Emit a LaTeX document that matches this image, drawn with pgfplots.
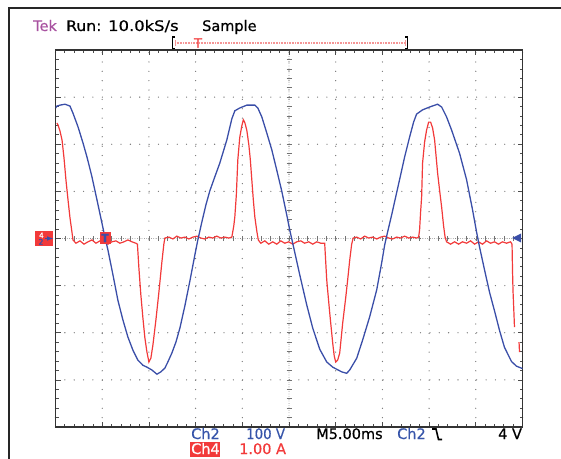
\documentclass[border=0pt]{standalone}
\usepackage{pgfplots}
\pgfplotsset{compat=1.18}
\usepackage{fontspec}
\setmainfont{DejaVu Sans}[FakeBold=0.5]

\definecolor{tekblue}{RGB}{58,78,168}
\definecolor{tekred}{RGB}{242,58,58}
\definecolor{tekpurple}{RGB}{168,82,160}
\definecolor{gridc}{RGB}{115,115,115}
\definecolor{txtblue}{RGB}{55,85,170}
\definecolor{pinkline}{RGB}{245,150,150}

\newcommand\tekfont{\fontsize{14.5}{17}\selectfont}

\begin{document}
\begin{tikzpicture}[x=1pt,y=1pt]
\useasboundingbox (0,0) rectangle (561,458);

% outer frame of the screen capture
\draw[black!85, line width=2pt] (9,-20) -- (9,450) -- (600,450);

% centre lines of the graticule: fine dots and 0.2 div ticks
\draw[gridc, line width=0.8pt, line cap=round, dash pattern=on 0pt off 2.34pt] (55.5,219.5) -- (522.5,219.5);
\draw[gridc, line width=0.8pt, line cap=round, dash pattern=on 0pt off 2.36pt] (289,31) -- (289,408);
\foreach \i in {1,...,49} \draw[gridc, line width=0.6pt] ({55.5+\i*9.34},217) -- ++(0,5);
\foreach \j in {1,...,39} \draw[gridc, line width=0.6pt] (286.5,{31+\j*9.425}) -- ++(5,0);

% Ch4: current, 1.00 A/div
\begin{axis}[
  at={(55.5pt,31pt)}, anchor=south west,
  scale only axis, width=467pt, height=377pt,
  xmin=0, xmax=50, ymin=-4, ymax=4,
  xtick={0,5,...,50}, ytick={-4,-3,...,4},
  minor x tick num=4, minor y tick num=4,
  xticklabels={}, yticklabels={},
  tick align=inside, tick pos=both,
  major tick length=5pt, minor tick length=3pt,
  tick style={black!70, line width=0.7pt},
  grid=major,
  major grid style={line width=1.3pt, line cap=round, dash pattern=on 0pt off 9.36pt, gridc},
  axis line style={black!80, line width=1.5pt},
]
\addplot[tekred, line width=1.2pt, unbounded coords=jump] coordinates {
(0.15,2.45)(0.27,2.41)(0.48,2.28)(0.70,2.09)(0.91,1.71)(1.12,1.24)(1.34,0.82)(1.55,0.44)(1.76,0.14)(1.87,-0.03)(2.19,-0.10)
(2.62,-0.05)(3.05,-0.12)(3.48,-0.07)(3.90,-0.03)(4.33,-0.10)(4.76,-0.05)(5.19,-0.07)(5.61,-0.12)(6.04,-0.07)(6.47,-0.05)(6.90,-0.10)(7.33,-0.07)(7.75,-0.03)(8.18,-0.07)(8.61,-0.10)
(8.77,-0.12)(8.93,-0.63)(9.14,-1.20)(9.36,-1.69)(9.57,-2.11)(9.79,-2.41)(10.00,-2.62)(10.21,-2.54)(10.43,-2.26)(10.75,-1.73)(11.07,-1.14)(11.39,-0.50)(11.60,-0.12)(11.71,0.01)
(12.14,0.03)(12.57,-0.01)(12.99,0.05)(13.42,0.01)(13.85,0.03)(14.28,-0.01)(14.71,0.03)(15.13,0.05)(15.56,0.01)(15.99,-0.01)(16.42,0.03)(16.84,0.01)(17.27,0.05)(17.70,0.01)(18.13,0.03)(18.56,0.01)(18.88,0.03)
(19.09,0.27)(19.20,0.46)(19.36,0.92)(19.52,1.67)(19.73,2.15)(19.95,2.39)(20.11,2.52)(20.27,2.46)(20.48,2.30)(20.70,1.99)(20.86,1.67)(21.02,1.24)(21.18,0.82)(21.34,0.46)(21.55,0.16)(21.71,-0.03)(21.98,-0.10)
(22.41,-0.05)(22.83,-0.12)(23.26,-0.07)(23.69,-0.12)(24.12,-0.05)(24.55,-0.10)(24.97,-0.07)(25.40,-0.12)(25.83,-0.07)(26.26,-0.05)(26.68,-0.10)(27.11,-0.07)(27.54,-0.12)(27.97,-0.07)(28.40,-0.10)(28.82,-0.10)
(29.04,-0.88)(29.36,-1.58)(29.68,-2.22)(29.84,-2.49)(30.00,-2.62)(30.21,-2.58)(30.43,-2.43)(30.75,-1.79)(31.07,-1.26)(31.28,-0.88)(31.50,-0.46)(31.71,-0.12)(31.87,0.01)
(32.25,0.03)(32.67,-0.01)(33.10,0.05)(33.53,0.01)(33.96,0.03)(34.39,-0.01)(34.81,0.03)(35.24,0.05)(35.67,0.01)(36.10,-0.01)(36.52,0.03)(36.95,0.01)(37.38,0.05)(37.81,0.01)(38.24,0.03)(38.66,0.01)(38.88,0.03)
(38.98,0.18)(39.09,0.56)(39.20,0.88)(39.30,1.60)(39.52,2.05)(39.73,2.30)(39.95,2.47)(40.16,2.47)(40.37,2.35)(40.59,2.09)(40.91,1.39)(41.12,1.03)(41.34,0.67)(41.55,0.27)(41.71,0.03)(41.87,-0.07)
(42.30,-0.12)(42.73,-0.07)(43.16,-0.12)(43.58,-0.07)(44.01,-0.10)(44.44,-0.05)(44.87,-0.12)(45.29,-0.07)(45.72,-0.12)(46.15,-0.05)(46.58,-0.10)(47.01,-0.07)(47.43,-0.12)(47.86,-0.07)(48.29,-0.10)(48.72,-0.07)(48.88,-0.12)
(48.93,-0.67)(48.98,-1.09)(49.09,-1.62)(49.14,-1.88)(49.40,nan)(49.63,-2.20)(49.68,-2.41)
};
\end{axis}

% Ch2: voltage, 100 V/div
\begin{axis}[
  at={(55.5pt,31pt)}, anchor=south west,
  scale only axis, width=467pt, height=377pt,
  xmin=0, xmax=50, ymin=-400, ymax=400,
  hide axis,
]
\addplot[tekblue, line width=1.3pt] coordinates {
(0.00,277)(0.16,281)(0.48,283)(1.02,285)(1.55,281)(1.87,266)(2.41,237)(2.94,203)(3.37,173)(3.90,131)(4.44,82)(4.97,33)(5.29,3)(5.61,-24)
(6.15,-77)(6.68,-131)(7.22,-173)(7.75,-209)(8.29,-237)(8.82,-258)(9.36,-269)(9.79,-273)(10.32,-279)(10.86,-288)(11.28,-283)(11.71,-275)
(12.03,-262)(12.46,-243)(12.89,-220)(13.32,-190)(13.85,-143)(14.39,-90)(14.92,-35)(15.24,-3)(15.67,35)(16.10,71)(16.52,101)(17.06,131)
(17.59,160)(18.34,209)(18.88,254)(19.20,271)(19.73,277)(20.48,283)(21.34,283)(21.66,277)(22.09,258)(22.62,224)(23.16,188)(23.69,145)
(24.22,101)(24.76,50)(25.08,18)(25.40,-10)(26.15,-77)(26.90,-141)(27.54,-190)(28.29,-235)(29.04,-262)(29.68,-273)(30.64,-283)(31.18,-286)
(31.50,-279)(32.25,-254)(32.89,-215)(33.64,-166)(34.39,-109)(34.92,-52)(35.24,-14)(35.56,14)(35.99,50)(36.42,88)(36.84,125)(37.38,173)
(37.91,215)(38.34,247)(38.66,264)(39.30,273)(40.05,279)(40.91,285)(41.34,279)(41.87,258)(42.41,230)(43.26,181)(44.01,125)(44.65,61)
(45.08,14)(45.40,-18)(45.94,-67)(46.47,-114)(47.01,-154)(47.54,-195)(48.07,-231)(48.82,-261)(49.36,-271)(50.00,-276)
};
\end{axis}

% header
\node[anchor=base west, inner sep=0pt, font=\tekfont, text=tekpurple] at (33,427) {Tek};
\node[anchor=base west, inner sep=0pt, font=\tekfont] at (66,427) {\scalebox{1.08}[1]{Run:}};
\node[anchor=base west, inner sep=0pt, font=\tekfont] at (108,427) {\scalebox{1.13}[1]{10.0kS/s}};
\node[anchor=base west, inner sep=0pt, font=\tekfont] at (202,427) {Sample};

% trigger position bar
\draw[pinkline, line width=1.2pt, dash pattern=on 1pt off 0.6pt] (175,415) -- (405,415);
\draw[pinkline, line width=0.8pt] (175,412) -- (175,418) (405,412) -- (405,418);
\draw[black, line width=1.5pt] (175,421) -- (172.5,421) -- (172.5,409.5) -- (175,409.5);
\draw[black, line width=1.5pt] (405,421) -- (407.5,421) -- (407.5,409.5) -- (405,409.5);
\node[text=tekred, font=\fontsize{13}{13}\selectfont, inner sep=0pt] at (198,415) {T};

% channel ground markers at the left (Ch4 box with the Ch2 marker over it)
\fill[tekred] (35,212.5) rectangle (53,226.5);
\node[text=white, font=\fontsize{7.5}{7.5}\selectfont, inner sep=0pt, anchor=base] at (41.5,220) {4};
\node[text=tekblue, font=\fontsize{7.5}{7.5}\selectfont, inner sep=0pt, anchor=base] at (41,213.5) {2};
\draw[tekblue, line width=1pt, -latex] (45,219.5) -- (53,219.5);

% trigger position marker
\fill[tekred] (99.5,214) rectangle (110.5,226);
\node[text=tekblue, font=\fontsize{11}{11}\selectfont\bfseries, inner sep=0pt] at (105,220) {T};

% trigger level marker at the right
\fill[tekblue] (512,220) -- (521,224.5) -- (521,215.5) -- cycle;

% readout line 1
\node[anchor=base west, inner sep=0pt, font=\tekfont, text=txtblue] at (191,19) {Ch2};
\node[anchor=base west, inner sep=0pt, font=\tekfont, text=txtblue] at (246,19) {\scalebox{0.92}[1]{100 V}};
\node[anchor=base west, inner sep=0pt, font=\tekfont] at (316,19) {M5.00ms};
\node[anchor=base west, inner sep=0pt, font=\tekfont, text=txtblue] at (397,19) {Ch2};
\draw[black, line width=1.6pt] (432,29) -- (436,29) -- (438.5,18.5) -- (442,18.5);
\node[anchor=base west, inner sep=0pt, font=\tekfont] at (498,19) {4 V};

% readout line 2
\fill[tekred] (190,1) rectangle (219.5,16.5);
\node[anchor=base west, inner sep=0pt, font=\tekfont, text=white] at (191,4) {Ch4};
\node[anchor=base west, inner sep=0pt, font=\tekfont, text=tekred] at (239,4) {1.00 A};
\end{tikzpicture}
\end{document}
